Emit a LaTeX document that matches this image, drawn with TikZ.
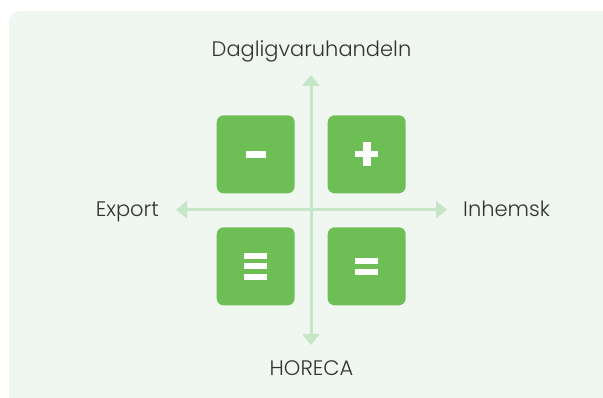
\documentclass[tikz,border=0pt]{standalone}
\usepackage{fontspec}
\setmainfont{Poppins}[UprightFont=* Light]
\usetikzlibrary{arrows.meta}
\definecolor{panelbg}{HTML}{F0F7F1}
\definecolor{quadgreen}{HTML}{6CBE55}
\definecolor{axisgreen}{HTML}{C6E6C8}
\definecolor{labelgray}{HTML}{333333}
\tikzset{
  quad/.style={fill=quadgreen, rounded corners=7pt, minimum size=78pt, inner sep=0pt},
  axis/.style={draw=axisgreen, line width=3pt, {Triangle[length=11pt,width=17pt]}-{Triangle[length=11pt,width=17pt]}},
  axislabel/.style={text=labelgray, font=\fontsize{21}{24}\selectfont, inner sep=0pt},
  bar/.style={fill=white}
}
\begin{document}
\begin{tikzpicture}[x=1pt, y=-1pt]
  \useasboundingbox (0,0) rectangle (603,398);
  % panel
  \begin{scope}
    \clip (0,0) rectangle (603,398);
    \fill[panelbg, rounded corners=11pt] (9,11) rectangle (640,430);
  \end{scope}

  % axis ends
  \coordinate (top) at (311,75);
  \coordinate (bottom) at (311,345);
  \coordinate (left) at (176,209.7);
  \coordinate (right) at (447,209.7);
  \draw[axis] (bottom) -- (top);
  \draw[axis] (left) -- (right);

  % quadrants
  \node[quad] (tl) at (255.7,154.3) {};
  \node[quad] (tr) at (366.7,154.3) {};
  \node[quad] (bl) at (255.7,266.3) {};
  \node[quad] (br) at (366.7,266.3) {};

  % minus
  \begin{scope}[shift={(tl.center)}]
    \fill[bar] (-10,-3.5) rectangle (10,3.5);
  \end{scope}
  % plus
  \begin{scope}[shift={(tr.center)}]
    \fill[bar] (-11.5,-3.2) rectangle (11.5,3.2);
    \fill[bar] (-3.8,-11.8) rectangle (3.8,11.8);
  \end{scope}
  % triple bar
  \begin{scope}[shift={(bl.center)}]
    \fill[bar] (-11.3,-13) rectangle (11.3,-7.3);
    \fill[bar] (-11.3,-2.8) rectangle (11.3,2.8);
    \fill[bar] (-11.3,7.5) rectangle (11.3,13.8);
  \end{scope}
  % equals
  \begin{scope}[shift={(br.center)}]
    \fill[bar] (-11.5,-8.5) rectangle (11.5,-2.5);
    \fill[bar] (-11.5,2.8) rectangle (11.5,8.8);
  \end{scope}

  % labels
  \node[axislabel, anchor=base] (ltop) at (311.5,56.7) {Dagligvaruhandeln};
  \node[axislabel, anchor=base] (lbottom) at (311.5,375) {HORECA};
  \node[axislabel, anchor=base east] (lleft) at (159,216.7) {Export};
  \node[axislabel, anchor=base west] (lright) at (463,216.7) {Inhemsk};
\end{tikzpicture}
\end{document}
